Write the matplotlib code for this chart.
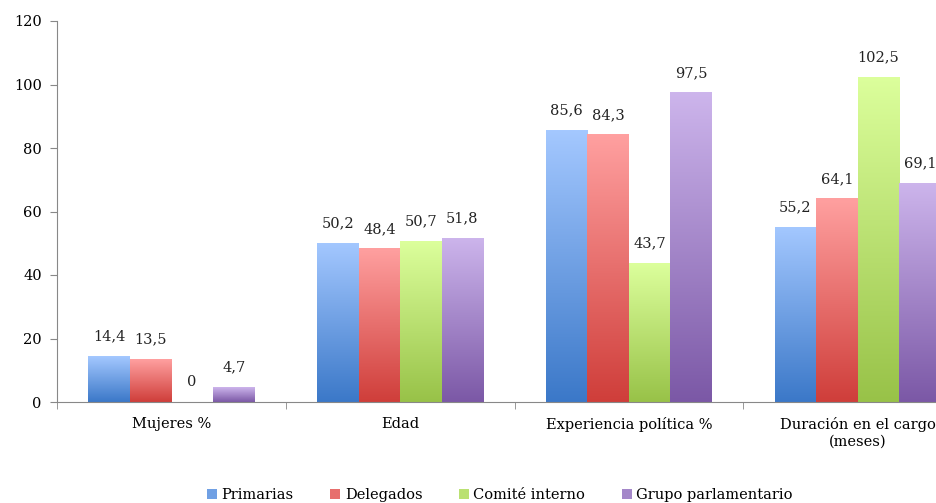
"""Recreate grouped bar chart with gradient bars."""
import matplotlib
matplotlib.use("Agg")
import matplotlib.pyplot as plt
import numpy as np
from matplotlib.colors import LinearSegmentedColormap
from matplotlib.patches import Rectangle

categories = ["Mujeres %", "Edad", "Experiencia política %", "Duración en el cargo\n(meses)"]
series = ["Primarias", "Delegados", "Comité interno", "Grupo parlamentario"]
primarias = [14.4, 50.2, 85.6, 55.2]
delegados = [13.5, 48.4, 84.3, 64.1]
comite = [0, 50.7, 43.7, 102.5]
grupo = [4.7, 51.8, 97.5, 69.1]
values = [primarias, delegados, comite, grupo]

# (top colour, bottom colour) per series
grads = [("#a4c8ff", "#3b78c8"), ("#ffa0a0", "#cf3e3a"),
         ("#dcff9c", "#98c248"), ("#cdb5ec", "#7b58a6")]

plt.rcParams["font.family"] = ["DejaVu Serif"]
fs = 10.5

fig = plt.figure(figsize=(9.36, 5.03), dpi=100)
ax = fig.add_axes([57 / 936, 101 / 503, 915 / 936, 381 / 503])
ax.set_xlim(-0.5, 3.5)
ax.set_ylim(0, 120)

width = 0.1815
x = np.arange(len(categories))
grad = np.linspace(0, 1, 256).reshape(-1, 1)
for i, (vals, (top, bot)) in enumerate(zip(values, grads)):
    cmap = LinearSegmentedColormap.from_list(series[i], [bot, top])
    for xi, v in zip(x, vals):
        left = xi + (i - 2) * width
        if v > 0:
            rect = Rectangle((left, 0), width, v, facecolor="none", edgecolor="none")
            ax.add_patch(rect)
            im = ax.imshow(grad, cmap=cmap, origin="lower", aspect="auto",
                           extent=(left, left + width, 0, v), zorder=2)
            im.set_clip_path(rect)
        ax.annotate(f"{v:g}".replace(".", ","), (left + width / 2, v),
                    xytext=(0, 9), textcoords="offset points",
                    ha="center", va="bottom", fontsize=fs, color="#222222")
    ax.add_patch(Rectangle((0, 0), 0, 0, facecolor=cmap(0.5), label=series[i]))

ax.set_xlim(-0.5, 3.5)
ax.set_ylim(0, 120)
ax.set_yticks(range(0, 121, 20))
ax.set_xticks(x)
ax.set_xticklabels(categories, fontsize=fs)
ax.set_xticks(np.arange(-0.5, 3.6, 1), minor=True)
ax.tick_params(axis="x", which="major", length=0, pad=11)
ax.tick_params(axis="x", which="minor", length=5, color="#888888")
ax.tick_params(axis="y", length=5, color="#888888", labelsize=fs, pad=6)
for s in ["top", "right"]:
    ax.spines[s].set_visible(False)
ax.spines["left"].set_color("#888888")
ax.spines["bottom"].set_color("#888888")

fig.legend(loc="lower center", bbox_to_anchor=(500 / 936, -0.025), ncol=4,
           frameon=False, fontsize=fs, handlelength=0.7, handleheight=0.7,
           handletextpad=0.3, columnspacing=2.5)

fig.savefig("out.png", dpi=100)
